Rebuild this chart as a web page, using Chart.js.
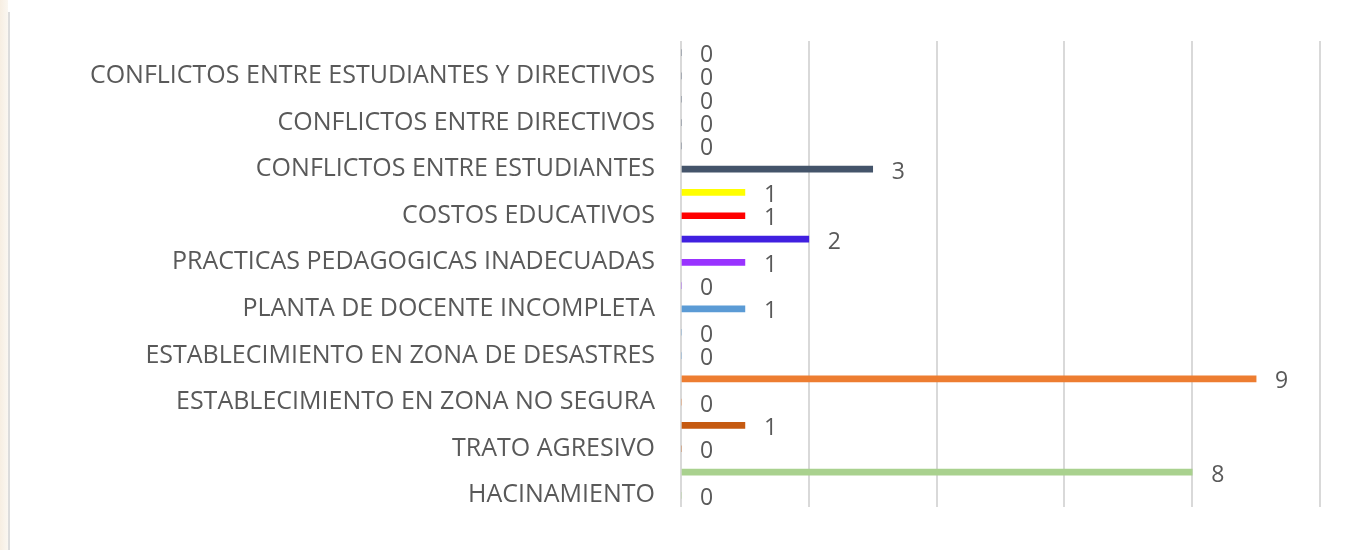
<!DOCTYPE html>
<html>
<head>
<meta charset="utf-8">
<script src="https://cdn.jsdelivr.net/npm/chart.js@4"></script>
<style>
  body { margin: 0; background: #fff; }
  #wrap { position: relative; width: 1348px; height: 550px; }
</style>
</head>
<body>
<div id="wrap"><canvas id="canvas" width="1348" height="550"></canvas></div>
<script>
// categories from bottom to top (Excel order); every other label is hidden in the original
var categories = [
  'HACINAMIENTO', '',
  'TRATO AGRESIVO', '',
  'ESTABLECIMIENTO EN ZONA NO SEGURA', '',
  'ESTABLECIMIENTO EN ZONA DE DESASTRES', '',
  'PLANTA DE DOCENTE INCOMPLETA', '',
  'PRACTICAS PEDAGOGICAS INADECUADAS', '',
  'COSTOS EDUCATIVOS', '',
  'CONFLICTOS ENTRE ESTUDIANTES', '',
  'CONFLICTOS ENTRE DIRECTIVOS', '',
  'CONFLICTOS ENTRE ESTUDIANTES Y DIRECTIVOS', ''
];
var values = [0, 8, 0, 1, 0, 9, 0, 0, 1, 0, 1, 2, 1, 1, 3, 0, 0, 0, 0, 0];
var barColors = [
  '#a9d18e', '#a9d18e', '#c55a11', '#c55a11', '#ed7d31', '#ed7d31', '#5b9bd5', '#5b9bd5', '#5b9bd5', '#9933ff',
  '#9933ff', '#4020e0', '#ff0000', '#ffff00', '#44546a', '#44546a', '#44546a', '#44546a', '#44546a', '#44546a'
];
var xTicks = [0, 2, 4, 6, 8, 10];

var textColor = '#595959';
var fontFamily = "'Open Sans', 'Liberation Sans', sans-serif";

// draws the value next to each bar, the way Excel does
var valueLabels = {
  id: 'valueLabels',
  afterDatasetsDraw: function(chart){
    var ctx = chart.ctx;
    var meta = chart.getDatasetMeta(0);
    ctx.save();
    ctx.fillStyle = textColor;
    ctx.font = '23px ' + fontFamily;
    ctx.textAlign = 'left';
    ctx.textBaseline = 'middle';
    meta.data.forEach(function(bar, i){
      ctx.fillText(String(values[i]), bar.x + 19, bar.y + 3);
    });
    ctx.restore();
  }
};

// slide background strip and frame line on the left
var frame = {
  id: 'frame',
  beforeDraw: function(chart){
    var ctx = chart.ctx;
    ctx.save();
    ctx.fillStyle = '#ffffff';
    ctx.fillRect(0, 0, chart.width, chart.height);
    var g = ctx.createLinearGradient(0, 0, 9, 0);
    g.addColorStop(0, '#f7eee2');
    g.addColorStop(1, '#fbf8f3');
    ctx.fillStyle = g;
    ctx.fillRect(0, 0, 8, chart.height);
    ctx.strokeStyle = '#dcdcdc';
    ctx.lineWidth = 2;
    ctx.beginPath();
    ctx.moveTo(9, 12);
    ctx.lineTo(9, chart.height);
    ctx.stroke();
    ctx.restore();
  }
};

var ctx = document.getElementById('canvas').getContext('2d');
var chart = new Chart(ctx, {
  type: 'bar',
  data: {
    labels: categories,
    datasets: [{
      data: values,
      backgroundColor: barColors,
      barThickness: 6,
      borderWidth: 0
    }]
  },
  options: {
    indexAxis: 'y',
    responsive: false,
    animation: false,
    events: [],
    layout: { padding: { left: 20, right: 28, top: 38, bottom: 43 } },
    plugins: {
      legend: { display: false },
      tooltip: { enabled: false }
    },
    scales: {
      x: {
        min: 0,
        max: 10,
        afterBuildTicks: function(axis){
          axis.ticks = xTicks.map(function(v){ return { value: v }; });
        },
        ticks: { display: false },
        grid: { color: '#d9d9d9', lineWidth: 2, drawTicks: false },
        border: { display: false }
      },
      y: {
        reverse: true,
        afterFit: function(axis){ axis.width = 661; },
        ticks: {
          autoSkip: false,
          padding: 26,
          color: textColor,
          font: { size: 25, family: fontFamily }
        },
        grid: { display: false, drawTicks: false },
        border: { display: false }
      }
    }
  },
  plugins: [frame, valueLabels]
});
</script>
</body>
</html>
